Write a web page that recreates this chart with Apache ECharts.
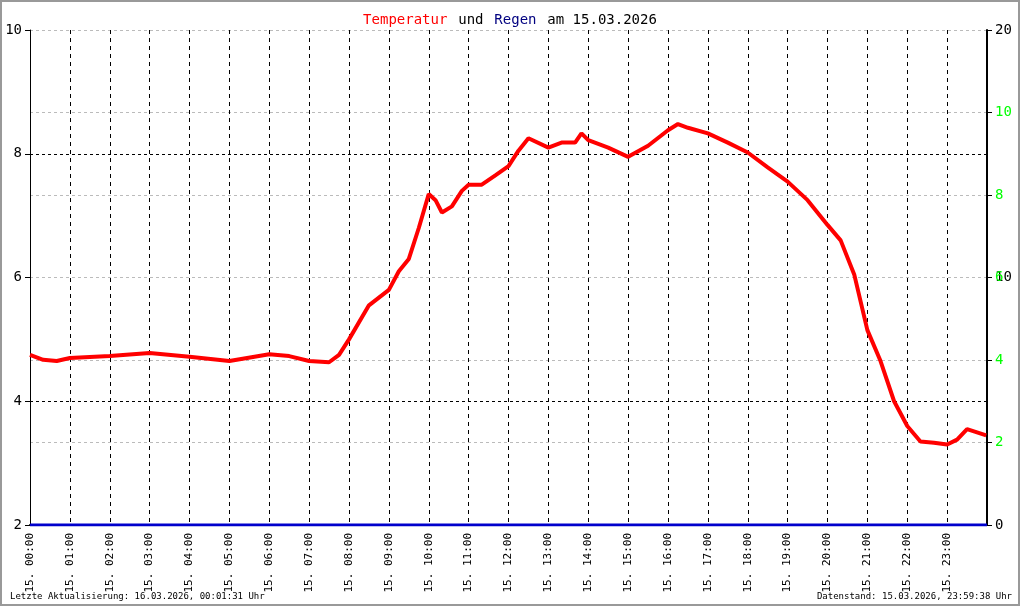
<!DOCTYPE html>
<html><head><meta charset="utf-8">
<script src="https://cdn.jsdelivr.net/npm/echarts@6/dist/echarts.min.js"></script>
<style>html,body{margin:0;padding:0;background:#fff}#c{width:1016px;height:602px;border:2px solid #999}</style>
</head><body><div id="c"></div>
<script>
// hours since 00:00 and temperature in °C
var hours = [0,0.33,0.67,1,2,3,4,5,6,6.5,7,7.5,7.75,8,8.5,9,9.25,9.5,9.75,10,10.17,10.33,10.58,10.83,11,11.33,11.67,12,12.25,12.5,13,13.33,13.67,13.83,14,14.5,15,15.5,16,16.25,16.5,17,17.5,18,18.5,19,19.5,20,20.33,20.67,21,21.33,21.67,22,22.33,22.67,23,23.25,23.5,23.98];
var temps = [4.75,4.67,4.65,4.70,4.73,4.78,4.72,4.65,4.76,4.73,4.65,4.63,4.75,5.0,5.55,5.8,6.1,6.3,6.8,7.35,7.25,7.05,7.15,7.4,7.5,7.5,7.65,7.8,8.05,8.25,8.1,8.18,8.18,8.33,8.22,8.1,7.95,8.13,8.38,8.48,8.42,8.33,8.18,8.02,7.78,7.55,7.25,6.85,6.6,6.05,5.15,4.65,4.0,3.6,3.35,3.33,3.3,3.38,3.55,3.45];
var rainHours = [0,24];
var rain = [0,0];

var font = 'DejaVu Sans Mono';
var chart = echarts.init(document.getElementById('c'));
function pad(n){return (n<10?'0':'')+n;}
chart.setOption({
  animation:false,
  textStyle:{fontFamily:font},
  title:{left:'center',top:4,text:'{r|Temperatur} {k|und} {b|Regen} {k|am 15.03.2026}',
    textStyle:{rich:{r:{color:'#ff0000',fontSize:14,fontWeight:'normal',fontFamily:font},k:{color:'#000',fontSize:14,fontWeight:'normal',fontFamily:font},b:{color:'#000080',fontSize:14,fontWeight:'normal',fontFamily:font}}}},
  graphic:[
    {type:'text',left:8,bottom:3,style:{text:'Letzte Aktualisierung: 16.03.2026, 00:01:31 Uhr',fontFamily:font,fontSize:9,fill:'#000'}},
    {type:'text',right:6,bottom:3,style:{text:'Datenstand: 15.03.2026, 23:59:38 Uhr',fontFamily:font,fontSize:9,fill:'#000'}}
  ],
  grid:{left:28,right:31,top:28,bottom:79},
  xAxis:{type:'value',min:0,max:24,interval:1,
    axisLine:{lineStyle:{color:'#000',width:2}},axisTick:{show:false},
    axisLabel:{rotate:90,color:'#000',fontSize:11,fontFamily:font,
      formatter:function(v){return v>=24?'':'15. '+pad(v)+':00';}},
    splitLine:{show:true,lineStyle:{color:'#000',type:[4,4]}}},
  yAxis:[
    {type:'value',min:2,max:10,interval:2,position:'left',
      axisLine:{show:true,lineStyle:{color:'#000'}},axisTick:{show:true,length:5,lineStyle:{color:'#000'}},
      axisLabel:{color:'#000',fontSize:14,fontFamily:font},
      splitLine:{show:true,lineStyle:{color:'#000',type:[3,3]}}},
    {type:'value',min:0,max:20,interval:10,position:'right',
      axisLine:{show:true,lineStyle:{color:'#000',width:2}},axisTick:{show:true,length:5,lineStyle:{color:'#000'}},
      axisLabel:{color:'#000',fontSize:14,fontFamily:font},
      splitLine:{show:true,lineStyle:{color:'#000',type:[3,3]}}},
    {type:'value',min:0,max:12,interval:2,position:'right',
      axisLine:{show:false},axisTick:{show:true,length:5,lineStyle:{color:'#000'}},
      axisLabel:{color:'#00ff00',fontSize:14,fontFamily:font,formatter:function(v){return (v==0||v==12)?'':v;}},
      splitLine:{show:true,lineStyle:{color:'#bbb',type:[3,3]}}}
  ],
  series:[
    {type:'line',yAxisIndex:1,data:rainHours.map(function(h,i){return [h,rain[i]];}),
      symbol:'none',lineStyle:{color:'#0000cc',width:3},z:5},
    {type:'line',yAxisIndex:0,data:hours.map(function(h,i){return [h,temps[i]];}),
      symbol:'none',lineStyle:{color:'#ff0000',width:4},z:6}
  ]
});
</script></body></html>
